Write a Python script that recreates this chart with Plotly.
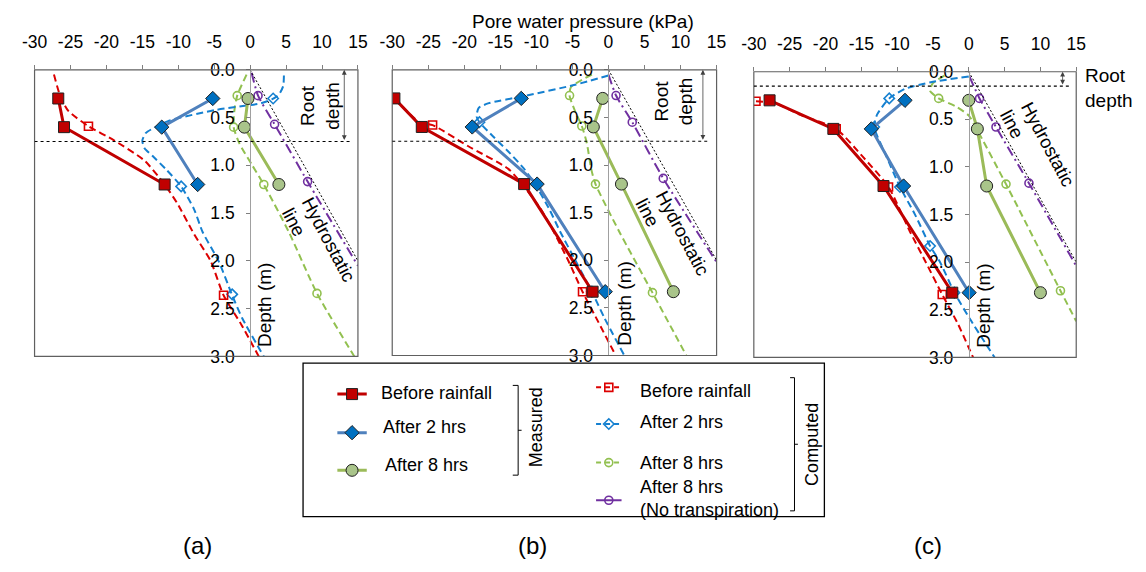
import plotly.graph_objects as go

W, H = 1146, 572
FONT = "Liberation Sans, Arial, sans-serif"

# ----------------------------- data -----------------------------
x_ticks = [-30, -25, -20, -15, -10, -5, 0, 5, 10, 15]
x_ticklabels = ["-30", "-25", "-20", "-15", "-10", "-5", "0", "5", "10", "15"]
y_ticks = [0.0, 0.5, 1.0, 1.5, 2.0, 2.5, 3.0]
y_ticklabels = ["0.0", "0.5", "1.0", "1.5", "2.0", "2.5", "3.0"]

hydro_depth = [0.0, 2.0]
hydro_u = [0.0, 15.0]
root_depths = [0.75, 0.75, 0.15]

# ---- panel (a) ----
a_meas_depth = [0.3, 0.6, 1.2]
a_meas_before = [-26.7, -25.9, -11.9]
a_meas_2h = [-5.2, -12.3, -7.3]
a_meas_8h = [-0.3, -0.8, 4.0]

a_comp_before_depth = [0.05, 0.28, 0.43, 0.59, 0.74, 0.95, 1.19, 1.39, 1.72, 2.0, 2.36, 2.67, 3.0]
a_comp_before = [-27.3, -26.4, -25.3, -22.5, -18.9, -14.7, -12.0, -10.2, -7.8, -5.5, -3.7, -1.2, 1.2]
a_comp_before_mk_depth = [0.59, 2.36]
a_comp_before_mk = [-22.5, -3.7]

a_comp_2h_depth = [0.06, 0.17, 0.26, 0.31, 0.35, 0.42, 0.53, 0.60, 0.66, 0.74, 0.82, 0.90, 1.05, 1.22, 1.46, 1.70, 2.0, 2.36, 2.6, 3.0]
a_comp_2h = [4.7, 4.6, 4.0, 3.0, 1.5, -4.8, -11.2, -13.2, -14.5, -15.0, -14.7, -13.6, -11.6, -9.6, -7.8, -6.6, -4.4, -2.5, -1.1, 1.9]
a_comp_2h_mk_depth = [0.30, 1.22, 2.35]
a_comp_2h_mk = [3.2, -9.6, -2.5]

a_comp_8h_depth = [0.05, 0.27, 0.43, 0.60, 0.77, 1.0, 1.2, 1.7, 2.34, 3.0]
a_comp_8h = [-0.5, -1.8, -2.2, -2.3, -1.5, 0.3, 1.9, 5.4, 9.3, 14.5]
a_comp_8h_mk_depth = [0.27, 0.60, 1.2, 2.34]
a_comp_8h_mk = [-1.8, -2.3, 1.9, 9.3]

a_comp_nt_depth = [0.03, 0.27, 0.57, 1.17, 2.05]
a_comp_nt = [0.2, 1.1, 3.4, 8.0, 15.0]
a_comp_nt_mk_depth = [0.27, 0.57, 1.17]
a_comp_nt_mk = [1.1, 3.4, 8.0]

# ---- panel (b) ----
b_meas_depth = [0.3, 0.6, 1.2, 2.33]
b_meas_before = [-29.7, -25.9, -11.7, -2.2]
b_meas_2h = [-12.1, -18.9, -9.9, -0.45]
b_meas_8h = [-0.8, -2.1, 1.8, 9.0]

b_comp_before_depth = [0.30, 0.55, 0.58, 0.80, 1.04, 1.18, 1.45, 1.70, 2.0, 2.33, 2.65, 3.0]
b_comp_before = [-29.7, -26.2, -24.4, -19.5, -13.9, -12.2, -9.5, -7.6, -5.6, -3.6, -1.4, 1.0]
b_comp_before_mk_depth = [0.58, 2.33]
b_comp_before_mk = [-24.4, -3.6]

b_comp_2h_depth = [0.06, 0.16, 0.28, 0.35, 0.40, 0.49, 0.55, 0.70, 0.85, 1.04, 1.20, 1.45, 1.70, 2.0, 2.33, 2.6, 3.0]
b_comp_2h = [0.0, -4.8, -12.0, -16.6, -18.0, -18.3, -17.9, -16.0, -14.0, -11.7, -10.2, -8.3, -6.7, -4.6, -2.3, -0.6, 2.2]
b_comp_2h_mk_depth = [0.55, 2.33]
b_comp_2h_mk = [-17.9, -2.3]

b_comp_8h_depth = [0.05, 0.18, 0.27, 0.44, 0.59, 0.77, 1.04, 1.2, 1.7, 2.34, 3.0]
b_comp_8h = [-2.3, -5.2, -5.4, -4.6, -3.7, -3.0, -2.4, -1.8, 1.5, 6.1, 10.8]
b_comp_8h_mk_depth = [0.27, 0.59, 1.2, 2.34]
b_comp_8h_mk = [-5.4, -3.7, -1.8, 6.1]

b_comp_nt_depth = [0.05, 0.27, 0.55, 1.14, 2.02]
b_comp_nt = [0.0, 1.05, 3.3, 7.6, 15.0]
b_comp_nt_mk_depth = [0.27, 0.55, 1.14]
b_comp_nt_mk = [1.05, 3.3, 7.6]

# ---- panel (c) ----
c_meas_depth = [0.3, 0.6, 1.2, 2.32]
c_meas_before = [-27.8, -18.9, -11.9, -2.3]
c_meas_2h = [-8.9, -13.6, -9.1, 0.05]
c_meas_8h = [0.0, 1.2, 2.5, 10.0]

c_comp_before_depth = [0.31, 0.33, 0.45, 0.60, 0.90, 1.21, 1.68, 2.0, 2.34, 2.65, 3.0]
c_comp_before = [-29.7, -27.0, -23.6, -18.5, -14.7, -11.2, -8.2, -6.0, -3.7, -1.5, 0.6]
c_comp_before_mk_depth = [0.31, 0.60, 1.21, 2.34]
c_comp_before_mk = [-29.7, -18.5, -11.2, -3.7]

c_comp_2h_depth = [0.05, 0.11, 0.18, 0.28, 0.45, 0.58, 0.87, 1.21, 1.5, 1.83, 2.0, 2.32, 2.6, 3.0]
c_comp_2h = [0.0, -5.3, -8.9, -11.1, -12.8, -13.2, -11.6, -9.6, -7.5, -5.4, -4.0, -2.0, 0.2, 3.6]
c_comp_2h_mk_depth = [0.28, 0.58, 1.21, 1.83, 2.32]
c_comp_2h_mk = [-11.1, -13.2, -9.6, -5.4, -2.0]

c_comp_8h_depth = [0.04, 0.12, 0.20, 0.28, 0.36, 0.46, 0.60, 1.18, 2.30, 2.62]
c_comp_8h = [-3.4, -5.0, -5.4, -4.2, -1.9, 0.0, 1.1, 5.2, 12.8, 15.0]
c_comp_8h_mk_depth = [0.28, 0.60, 1.18, 2.30]
c_comp_8h_mk = [-4.2, 1.1, 5.2, 12.8]

c_comp_nt_depth = [0.05, 0.28, 0.58, 1.17, 2.04]
c_comp_nt = [0.1, 1.5, 3.8, 8.4, 15.0]
c_comp_nt_mk_depth = [0.28, 0.58, 1.17]
c_comp_nt_mk = [1.5, 3.8, 8.4]

# ----------------------------- styles -----------------------------
RED_M, BLUE_M, GREEN_M = "#C00000", "#4F81BD", "#9BBB59"
BLUE_MK, GREEN_MK = "#0070C0", "#A9C48A"
RED_C, BLUE_C, GREEN_C, PURPLE_C = "#DC0000", "#1580D0", "#92C050", "#7030A0"
DASH = "7px,4px"
DASHDOT = "10px,4px,2px,4px"
GREY = "#7F7F7F"

# pixel boxes of the three panels (x0, x1, y0, y1)
boxes = [(22, 352, 62, 359), (387, 718, 62, 358), (756, 1085, 64, 360)]
LEG = (296, 828, 366, 525)

fig = go.Figure()


def add_panel(i, meas_depth, m_before, m_2h, m_8h, comps):
    xa = "x" if i == 1 else f"x{i}"
    ya = "y" if i == 1 else f"y{i}"
    for (d, u, mkd, mku, color, sym, dash) in comps:
        fig.add_trace(go.Scatter(x=u, y=d, xaxis=xa, yaxis=ya, mode="lines",
                                 line=dict(color=color, width=2, dash=dash, shape="spline", smoothing=0.6),
                                 showlegend=False, hoverinfo="skip"))
        if mkd:
            fig.add_trace(go.Scatter(x=mku, y=mkd, xaxis=xa, yaxis=ya, mode="markers",
                                     marker=dict(symbol=sym, size=8, color=color, line=dict(width=1.6, color=color)),
                                     showlegend=False, hoverinfo="skip"))
    for vals, lc, mc, sym, sz in [(m_8h, GREEN_M, GREEN_MK, "circle", 12),
                                  (m_2h, BLUE_M, BLUE_MK, "diamond", 11),
                                  (m_before, RED_M, RED_M, "square", 11)]:
        fig.add_trace(go.Scatter(x=vals, y=meas_depth, xaxis=xa, yaxis=ya, mode="lines+markers",
                                 line=dict(color=lc, width=3),
                                 marker=dict(symbol=sym, size=sz, color=mc, line=dict(width=1, color="#202020")),
                                 showlegend=False, hoverinfo="skip"))
    # hydrostatic line
    fig.add_trace(go.Scatter(x=hydro_u, y=hydro_depth, xaxis=xa, yaxis=ya, mode="lines",
                             line=dict(color="black", width=1, dash="2px,2px"),
                             showlegend=False, hoverinfo="skip"))


add_panel(1, a_meas_depth, a_meas_before, a_meas_2h, a_meas_8h, [
    (a_comp_nt_depth, a_comp_nt, a_comp_nt_mk_depth, a_comp_nt_mk, PURPLE_C, "circle-open", DASHDOT),
    (a_comp_8h_depth, a_comp_8h, a_comp_8h_mk_depth, a_comp_8h_mk, GREEN_C, "circle-open", DASH),
    (a_comp_2h_depth, a_comp_2h, a_comp_2h_mk_depth, a_comp_2h_mk, BLUE_C, "diamond-open", DASH),
    (a_comp_before_depth, a_comp_before, a_comp_before_mk_depth, a_comp_before_mk, RED_C, "square-open", DASH),
])
add_panel(2, b_meas_depth, b_meas_before, b_meas_2h, b_meas_8h, [
    (b_comp_nt_depth, b_comp_nt, b_comp_nt_mk_depth, b_comp_nt_mk, PURPLE_C, "circle-open", DASHDOT),
    (b_comp_8h_depth, b_comp_8h, b_comp_8h_mk_depth, b_comp_8h_mk, GREEN_C, "circle-open", DASH),
    (b_comp_2h_depth, b_comp_2h, b_comp_2h_mk_depth, b_comp_2h_mk, BLUE_C, "diamond-open", DASH),
    (b_comp_before_depth, b_comp_before, b_comp_before_mk_depth, b_comp_before_mk, RED_C, "square-open", DASH),
])
add_panel(3, c_meas_depth, c_meas_before, c_meas_2h, c_meas_8h, [
    (c_comp_nt_depth, c_comp_nt, c_comp_nt_mk_depth, c_comp_nt_mk, PURPLE_C, "circle-open", DASHDOT),
    (c_comp_8h_depth, c_comp_8h, c_comp_8h_mk_depth, c_comp_8h_mk, GREEN_C, "circle-open", DASH),
    (c_comp_2h_depth, c_comp_2h, c_comp_2h_mk_depth, c_comp_2h_mk, BLUE_C, "diamond-open", DASH),
    (c_comp_before_depth, c_comp_before, c_comp_before_mk_depth, c_comp_before_mk, RED_C, "square-open", DASH),
])

layout = dict(width=W, height=H, margin=dict(l=0, r=0, t=0, b=0),
              paper_bgcolor="white", plot_bgcolor="rgba(0,0,0,0)",
              font=dict(family=FONT, size=18, color="black"), showlegend=False)

shapes, annots = [], []


def paper_text(px, py, text, size, **kw):
    d = dict(x=px / W, y=1 - py / H, xref="paper", yref="paper", text=text, showarrow=False,
             xanchor="center", yanchor="middle", font=dict(size=size))
    d.update(kw)
    annots.append(d)


for i, (x0, x1, y0, y1) in enumerate(boxes, start=1):
    sfx = "" if i == 1 else str(i)
    xd = [x0 / W, x1 / W]
    yd = [1 - y1 / H, 1 - y0 / H]
    layout[f"xaxis{sfx}"] = dict(domain=xd, anchor=f"y{sfx}", side="top", range=[-30, 15],
                                 tickvals=x_ticks, ticktext=x_ticklabels, ticks="outside", ticklen=4,
                                 tickcolor=GREY, showline=False, showgrid=False, zeroline=False,
                                 tickfont=dict(size=17.5), ticklabelstandoff=10)
    layout[f"yaxis{sfx}"] = dict(domain=yd, anchor="free", position=xd[0] + (30 / 45) * (xd[1] - xd[0]),
                                 range=[3.0, 0.0], tickvals=y_ticks, ticktext=y_ticklabels,
                                 ticks="outside", ticklen=4, tickcolor=GREY, showline=True, linecolor="#A0A0A0",
                                 linewidth=1, showgrid=False, zeroline=False, tickfont=dict(size=17.5),
                                 ticklabelstandoff=8)
    xr, yr = f"x{sfx}", f"y{sfx}"
    shapes.append(dict(type="rect", xref=f"{xr} domain", yref=f"{yr} domain", x0=0, x1=1, y0=0, y1=1,
                       line=dict(color="#606060", width=1.2)))
    rd = root_depths[i - 1]
    shapes.append(dict(type="line", xref=xr, yref=yr, x0=-30, x1=14.0, y0=rd, y1=rd,
                       line=dict(color="black", width=1.2, dash="3px,3px")))
    annots.append(dict(x=13.1, y=0.0, ax=13.1, ay=rd, xref=xr, yref=yr, axref=xr, ayref=yr, text="",
                       showarrow=True, arrowhead=2, startarrowhead=2, arrowside="end+start",
                       arrowsize=1.2, arrowwidth=0.8, arrowcolor="#404040", standoff=0, startstandoff=0))
    annots.append(dict(x=2.1, y=2.46, xref=xr, yref=yr, text="Depth (m)", textangle=-90,
                       xanchor="center", yanchor="middle", showarrow=False, font=dict(size=19)))

# Root depth labels
annots.append(dict(x=9.8, y=0.38, xref="x", yref="y", text="Root<br>depth", textangle=-90,
                   xanchor="center", yanchor="middle", showarrow=False, font=dict(size=19)))
annots.append(dict(x=9.1, y=0.33, xref="x2", yref="y2", text="Root<br>depth", textangle=-90,
                   xanchor="center", yanchor="middle", showarrow=False, font=dict(size=19)))
paper_text(1092, 81, "Root<br>depth", 19, xanchor="left", align="left")

# Hydrostatic line labels
for xr, yr, hx, hy, lx, ly in [("x", "y", 10.9, 1.78, 6.1, 1.60),
                               ("x2", "y2", 10.3, 1.72, 5.4, 1.50),
                               ("x3", "y3", 11.1, 0.76, 6.1, 0.55)]:
    annots.append(dict(x=hx, y=hy, xref=xr, yref=yr, text="Hydrostatic", textangle=62,
                       xanchor="center", yanchor="middle", showarrow=False, font=dict(size=18.5)))
    annots.append(dict(x=lx, y=ly, xref=xr, yref=yr, text="line", textangle=62,
                       xanchor="center", yanchor="middle", showarrow=False, font=dict(size=18.5)))

# Title and panel labels
paper_text(582, 12, "Pore water pressure (kPa)", 19)
for lab, px in [("(a)", 188), ("(b)", 530), ("(c)", 934)]:
    paper_text(px, 555, lab, 24)

# ----------------------------- legend (manual) -----------------------------
lx0, lx1, ly0, ly1 = LEG
layout["xaxis4"] = dict(domain=[lx0 / W, lx1 / W], range=[lx0, lx1], visible=False, anchor="y4")
layout["yaxis4"] = dict(domain=[1 - ly1 / H, 1 - ly0 / H], range=[ly1, ly0], visible=False, anchor="x4")
shapes.append(dict(type="rect", xref="x4 domain", yref="y4 domain", x0=0, x1=1, y0=0, y1=1,
                   line=dict(color="black", width=1.3)))


def leg_text(x, y, text, **kw):
    d = dict(x=x, y=y, xref="x4", yref="y4", text=text, showarrow=False, xanchor="left",
             yanchor="middle", align="left", font=dict(size=18))
    d.update(kw)
    annots.append(d)


meas_legend = [("Before rainfall", RED_M, RED_M, "square", 11, 398, 397, 374),
               ("After 2 hrs", BLUE_M, BLUE_MK, "diamond", 11, 438, 432, 376),
               ("After 8 hrs", GREEN_M, GREEN_MK, "circle", 12, 477, 471, 378)]
for name, lc, mc, sym, sz, yy, ty, tx in meas_legend:
    fig.add_trace(go.Scatter(x=[331, 361], y=[yy, yy], xaxis="x4", yaxis="y4", mode="lines",
                             line=dict(color=lc, width=3), showlegend=False, hoverinfo="skip"))
    fig.add_trace(go.Scatter(x=[346], y=[yy], xaxis="x4", yaxis="y4", mode="markers",
                             marker=dict(symbol=sym, size=sz, color=mc, line=dict(width=1, color="#202020")),
                             showlegend=False, hoverinfo="skip"))
    leg_text(tx, ty, name)

comp_legend = [("Before rainfall", RED_C, "square-open", DASH, 391, 395),
               ("After 2 hrs", BLUE_C, "diamond-open", DASH, 429, 427),
               ("After 8 hrs", GREEN_C, "circle-open", DASH, 469, 469),
               ("After 8 hrs<br>(No transpiration)", PURPLE_C, "circle-open", "solid", 508, 506)]
for name, c, sym, dash, yy, ty in comp_legend:
    fig.add_trace(go.Scatter(x=[595, 621], y=[yy, yy], xaxis="x4", yaxis="y4", mode="lines",
                             line=dict(color=c, width=2, dash="5px,4px" if dash != "solid" else "solid"),
                             showlegend=False, hoverinfo="skip"))
    fig.add_trace(go.Scatter(x=[608], y=[yy], xaxis="x4", yaxis="y4", mode="markers",
                             marker=dict(symbol=sym, size=8, color=c, line=dict(width=1.6, color=c)),
                             showlegend=False, hoverinfo="skip"))
    leg_text(638, ty, name)

# brackets
shapes.append(dict(type="path", xref="x4", yref="y4", path="M 510,389 L 515.5,389 L 515.5,482 L 510,482",
                   line=dict(color="black", width=1)))
shapes.append(dict(type="line", xref="x4", yref="y4", x0=515.5, x1=519, y0=435.5, y1=435.5,
                   line=dict(color="black", width=1)))
shapes.append(dict(type="path", xref="x4", yref="y4", path="M 793,381 L 797.5,381 L 797.5,519 L 793,519",
                   line=dict(color="black", width=1)))
shapes.append(dict(type="line", xref="x4", yref="y4", x0=797.5, x1=801, y0=450, y1=450,
                   line=dict(color="black", width=1)))
leg_text(534, 432, "Measured", textangle=-90, xanchor="center")
leg_text(816, 450, "Computed", textangle=-90, xanchor="center")

layout["shapes"] = shapes
layout["annotations"] = annots
fig.update_layout(**layout)
fig.write_html("out.html")
